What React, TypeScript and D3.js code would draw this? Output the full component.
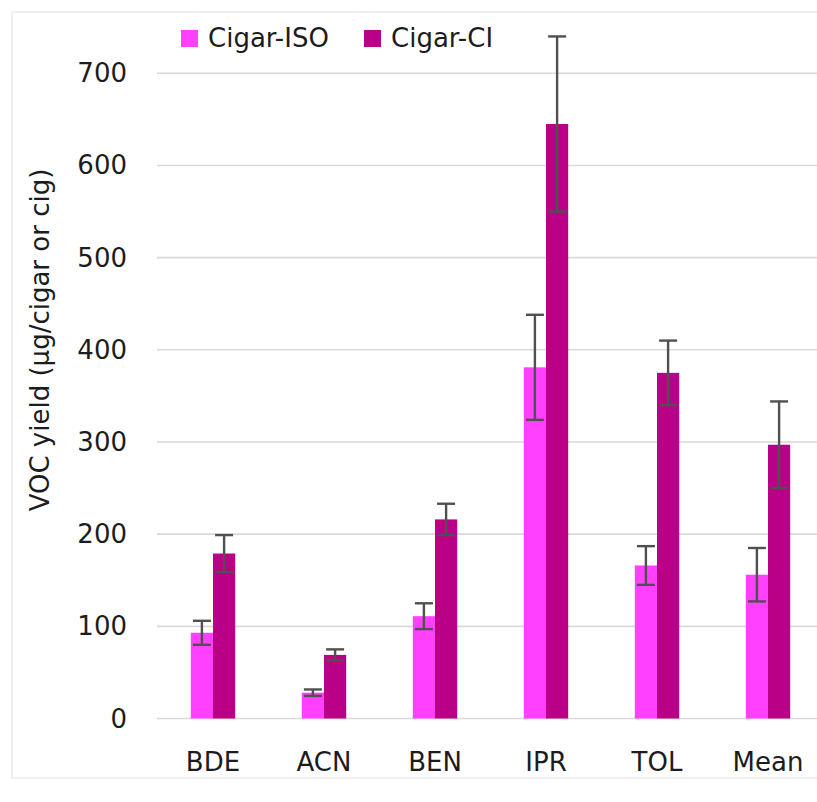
import React from "react";
import * as d3 from "d3";

const categories = ["BDE", "ACN", "BEN", "IPR", "TOL", "Mean"];
const seriesNames = ["Cigar-ISO", "Cigar-CI"];
const isoValues = [93, 28, 111, 381, 166, 156];
const isoErrors = [13, 3.5, 14, 57, 21, 29];
const ciValues = [179, 69, 216, 645, 375, 297];
const ciErrors = [20, 6, 17, 95, 35, 47];
const yTicks = [0, 100, 200, 300, 400, 500, 600, 700];
const colors = ["#FF40FF", "#BB0088"];

const W = 817;
const H = 802;
const FONT = "'DejaVu Sans', Verdana, sans-serif";
const TEXT = "#1c1c1c";

export default function App() {
  const x0 = d3
    .scaleBand<string>()
    .domain(categories)
    .range([157.5, 823.5])
    .paddingInner(0.6)
    .paddingOuter(0.3);
  const x1 = d3
    .scaleBand<string>()
    .domain(seriesNames)
    .range([0, x0.bandwidth()]);
  const y = d3.scaleLinear().domain([0, 700]).range([718.5, 73.3]);

  const series = [
    { name: seriesNames[0], values: isoValues, errors: isoErrors, color: colors[0] },
    { name: seriesNames[1], values: ciValues, errors: ciErrors, color: colors[1] },
  ];

  const legendX = [181, 364];

  return (
    <svg
      width={W}
      height={H}
      style={{ position: "absolute", left: 0, top: 0, background: "#fff" }}
      fontFamily={FONT}
    >
      <rect x={0} y={0} width={W} height={H} fill="#fff" />
      <rect x={12} y={12} width={W + 20} height={766} fill="none" stroke="#ececec" strokeWidth={1.5} />

      {/* gridlines */}
      {yTicks.map((t) => (
        <line key={t} x1={157} x2={W} y1={y(t)} y2={y(t)} stroke="#d9d9d9" strokeWidth={1.6} />
      ))}

      {/* y tick labels */}
      {yTicks.map((t) => (
        <text
          key={"l" + t}
          x={127}
          y={y(t)}
          textAnchor="end"
          dominantBaseline="central"
          fontSize={26}
          fill={TEXT}
        >
          {t}
        </text>
      ))}

      {/* y axis title */}
      <text
        transform={`translate(40, 340) rotate(-90)`}
        textAnchor="middle"
        dominantBaseline="central"
        fontSize={26}
        fill={TEXT}
      >
        VOC yield (µg/cigar or cig)
      </text>

      {/* bars */}
      {series.map((s) =>
        categories.map((c, i) => {
          const bx = (x0(c) as number) + (x1(s.name) as number);
          return (
            <rect
              key={s.name + c}
              x={bx}
              y={y(s.values[i])}
              width={x1.bandwidth()}
              height={y(0) - y(s.values[i])}
              fill={s.color}
            />
          );
        })
      )}

      {/* error bars */}
      {series.map((s) =>
        categories.map((c, i) => {
          const cx = (x0(c) as number) + (x1(s.name) as number) + x1.bandwidth() / 2;
          const top = y(s.values[i] + s.errors[i]);
          const bot = y(s.values[i] - s.errors[i]);
          const hw = 9;
          return (
            <g key={"e" + s.name + c} stroke="#505050" strokeWidth={2.4}>
              <line x1={cx} x2={cx} y1={top} y2={bot} />
              <line x1={cx - hw} x2={cx + hw} y1={top} y2={top} />
              <line x1={cx - hw} x2={cx + hw} y1={bot} y2={bot} />
            </g>
          );
        })
      )}

      {/* x labels */}
      {categories.map((c) => (
        <text
          key={"x" + c}
          x={(x0(c) as number) + x0.bandwidth() / 2}
          y={771}
          textAnchor="middle"
          fontSize={26}
          fill={TEXT}
        >
          {c}
        </text>
      ))}

      {/* legend */}
      {series.map((s, i) => (
        <g key={"lg" + s.name}>
          <rect x={legendX[i]} y={30} width={17} height={17} fill={s.color} />
          <text x={legendX[i] + 27} y={47} fontSize={26} fill={TEXT}>
            {s.name}
          </text>
        </g>
      ))}
    </svg>
  );
}
